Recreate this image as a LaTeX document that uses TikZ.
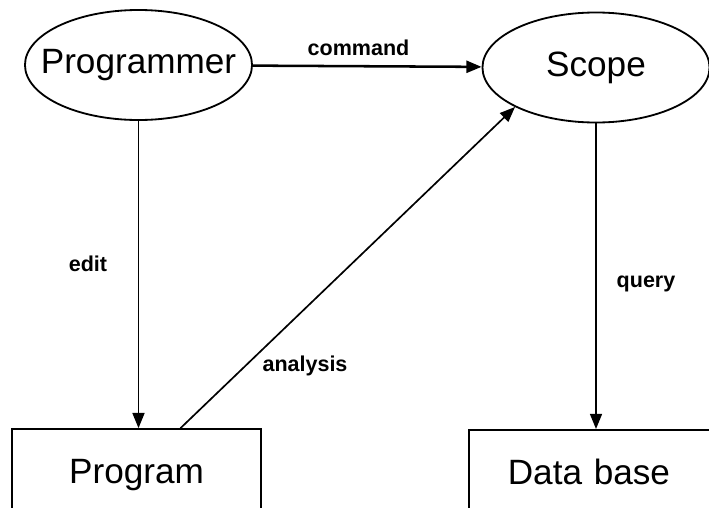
\documentclass[tikz,border=0pt]{standalone}
\usepackage{fontspec}
\setmainfont{Liberation Sans}
\usetikzlibrary{shapes.geometric,arrows.meta}
\newcommand{\namefont}{\fontsize{25}{30}\selectfont}
\newcommand{\flowfont}{\fontsize{15.3}{18}\selectfont\bfseries}

\begin{document}
\begin{tikzpicture}
[x=0.025cm, y=-0.025cm,
% STYLES
% The actor style is used for the ellipses of the active parts
actor/.style={ellipse, draw, line width=1.3pt, inner sep=0pt, minimum width=5.675cm, minimum height=2.75cm, label={[font=\namefont]center:#1}},
% The store style is used for the boxes, cut by the page bottom
store/.style={rectangle, draw, line width=1.2pt, minimum height=2.3cm, font=\namefont, text height=18pt, text depth=5.25pt},
% The flow style is used for the names of the links
flow/.style={font=\flowfont, inner sep=0pt},
link/.style={-{Triangle[length=0.38cm,width=0.3cm]}, line width=1.2pt}]

\useasboundingbox (0,0) rectangle (709,507);
\clip (0,0) rectangle (709,507);

% Draw parts
\node [actor=Programmer] (programmer) at (138.5,65) {};
\node [actor=Scope] (scope) at (596,67.5) {};
\node [store, minimum width=6.225cm] (program) at (136.5,475) {Program};
\node [store, anchor=north west, text width=5cm, align=left, inner xsep=0.975cm] (database) at (468,429) {Data base};

% Names of the links
\node [flow] (command) at (358.5,48) {command};
\node [flow] (edit) at (88,264) {edit};
\node [flow] (query) at (646,284) {query};
\node [flow] (analysis) at (305,366) {analysis};

% Draw the links
\draw [link, line width=1.8pt] (programmer) -- (scope);
\draw [link] (programmer.south) -- (programmer.south |- program.north);
\draw [link] ([xshift=1.1cm]program.north) -- (scope.206);
\draw [link] (scope.south) -- (scope.south |- database.north);

\end{tikzpicture}
\end{document}
